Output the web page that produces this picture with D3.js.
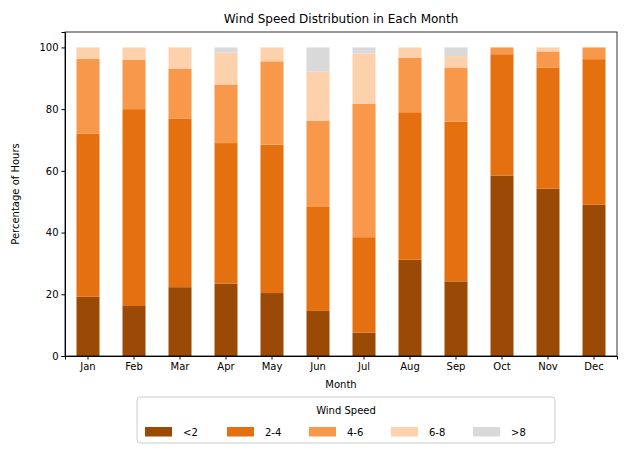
<!DOCTYPE html>
<html><head><meta charset="utf-8">
<script src="https://cdn.jsdelivr.net/npm/d3@7"></script>
<style>body{margin:0;background:#fff}text{font-family:"DejaVu Sans",sans-serif}</style>
</head><body><svg id="c" width="630" height="456"></svg>
<script>
// data (percent of hours)
var months = ["Jan","Feb","Mar","Apr","May","Jun","Jul","Aug","Sep","Oct","Nov","Dec"];
var speeds = ["<2","2-4","4-6","6-8",">8"];
var lt2 = [19.2,16.2,22.3,23.5,20.4,14.6,7.6,31.2,24.2,58.5,54.2,49.0];
var s2to4 = [52.8,63.8,54.7,45.5,48.1,33.9,30.9,47.8,51.8,39.3,39.3,47.2];
var s4to6 = [24.3,16.0,16.0,19.0,27.0,27.8,43.2,17.7,17.5,2.2,5.2,3.8];
var s6to8 = [3.7,4.0,7.0,10.3,4.5,15.9,16.3,3.3,3.7,0,1.3,0];
var gt8 = [0,0,0,1.7,0,7.8,2.0,0,2.8,0,0,0];
var colors = ["#9a4a05","#e5700f","#f7984b","#fdd1ab","#d9d9d9"];

var svg = d3.select("#c");
var m = {l:65, r:617, t:32, b:356};
var x = d3.scaleBand().domain(months).range([m.l, m.r]).paddingInner(0.5).paddingOuter(0.25);
var y = d3.scaleLinear().domain([0,105]).range([m.b, m.t]);

var rows = months.map(function(mo, i) {
  return {month: mo, "<2": lt2[i], "2-4": s2to4[i], "4-6": s4to6[i], "6-8": s6to8[i], ">8": gt8[i]};
});
var stack = d3.stack().keys(speeds)(rows);

svg.selectAll("g.layer").data(stack).enter().append("g")
  .attr("fill", function(d, i) { return colors[i]; })
  .selectAll("rect").data(function(d) { return d; }).enter().append("rect")
  .attr("x", function(d) { return x(d.data.month); })
  .attr("width", x.bandwidth())
  .attr("y", function(d) { return y(d[1]); })
  .attr("height", function(d) { return y(d[0]) - y(d[1]); });

svg.append("g").attr("transform", "translate(0," + m.b + ")")
  .call(d3.axisBottom(x).tickSizeOuter(0).tickSize(3.5))
  .call(function(g) { g.selectAll("text").attr("font-size", 10).attr("fill", "#000"); });
svg.append("g").attr("transform", "translate(" + m.l + ",0)")
  .call(d3.axisLeft(y).tickValues([0,20,40,60,80,100]).tickSizeOuter(0).tickSize(3.5))
  .call(function(g) { g.selectAll("text").attr("font-size", 10).attr("fill", "#000"); });
svg.selectAll(".domain").attr("stroke", "#000");
// frame
svg.append("rect").attr("x", m.l).attr("y", m.t).attr("width", m.r - m.l).attr("height", m.b - m.t)
  .attr("fill", "none").attr("stroke", "#000").attr("stroke-width", 0.8);

svg.append("text").attr("x", (m.l + m.r) / 2).attr("y", 23).attr("text-anchor", "middle")
  .attr("font-size", 12).text("Wind Speed Distribution in Each Month");
svg.append("text").attr("x", (m.l + m.r) / 2).attr("y", 388).attr("text-anchor", "middle")
  .attr("font-size", 10).text("Month");
svg.append("text").attr("transform", "translate(19," + (m.t + m.b) / 2 + ") rotate(-90)")
  .attr("text-anchor", "middle").attr("font-size", 10).text("Percentage of Hours");

// legend
var lg = svg.append("g");
lg.append("rect").attr("x", 137).attr("y", 397).attr("width", 418).attr("height", 46).attr("rx", 3)
  .attr("fill", "#fff").attr("stroke", "#ccc");
lg.append("text").attr("x", 346).attr("y", 414).attr("text-anchor", "middle").attr("font-size", 10).text("Wind Speed");
speeds.forEach(function(s, i) {
  var lx = 145 + i * 82;
  lg.append("rect").attr("x", lx).attr("y", 427).attr("width", 27).attr("height", 9.5).attr("fill", colors[i]);
  lg.append("text").attr("x", lx + 38).attr("y", 436).attr("font-size", 10).text(s);
});
</script></body></html>
